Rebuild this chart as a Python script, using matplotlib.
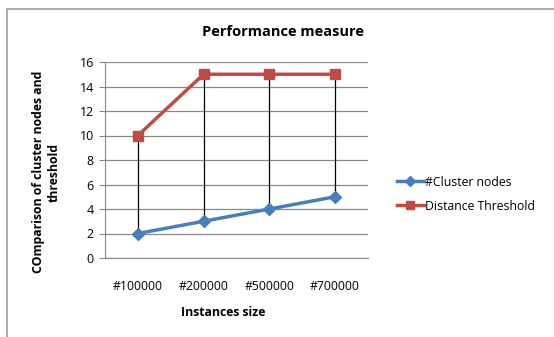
import matplotlib
matplotlib.use("Agg")
import matplotlib.pyplot as plt
from matplotlib.patches import Rectangle

categories = ["#100000", "#200000", "#500000", "#700000"]
cluster_nodes = [2, 3, 4, 5]
distance_threshold = [10, 15, 15, 15]
yticks = [0, 2, 4, 6, 8, 10, 12, 14, 16]

plt.rcParams['font.family'] = ['Open Sans', 'DejaVu Sans']

W, H = 554, 337
fig = plt.figure(figsize=(W / 100, H / 100), dpi=100)
fig.patch.set_facecolor("white")

# outer chart border (extends beyond right/bottom edges)
fig.patches.append(Rectangle((7 / W, -0.1), 1.2, 1 - 9 / H + 0.1, transform=fig.transFigure,
                             fill=False, edgecolor="#a0a0a0", linewidth=1.2))

ax = fig.add_axes([105 / W, 1 - 258 / H, (368 - 105) / W, (258 - 62) / H])
x = list(range(len(categories)))

for i in x:
    ax.plot([i, i], [cluster_nodes[i], distance_threshold[i]], color="black", lw=0.9, zorder=2)

ax.plot(x, cluster_nodes, color="#4a7ebb", lw=2.5, marker="D", markersize=6,
        markerfacecolor="#4a7ebb", markeredgecolor="#4a7ebb", label="#Cluster nodes", zorder=3)
ax.plot(x, distance_threshold, color="#be4b48", lw=2.5, marker="s", markersize=7.5,
        markerfacecolor="#be4b48", markeredgecolor="#be4b48", label="Distance Threshold", zorder=3)

ax.set_xlim(-0.5, 3.5)
ax.set_ylim(0, 16)
ax.set_yticks(yticks)
ax.set_xticks(x)
ax.set_xticklabels(categories)
ax.yaxis.grid(True, color="#888888", lw=0.9)
ax.set_axisbelow(True)
for s in ["top", "right"]:
    ax.spines[s].set_visible(False)
ax.spines["left"].set_color("#888888")
ax.spines["bottom"].set_color("#888888")
ax.tick_params(axis="y", length=4, color="#888888", labelsize=9, pad=4)
ax.tick_params(axis="x", length=0, labelsize=8.8, pad=16)

fig.text(283 / W, 1 - 32 / H, "Performance measure", ha="center", va="center",
         fontsize=10.5, fontweight="bold")
fig.text(223 / W, 1 - 313 / H, "Instances size", ha="center", va="center",
         fontsize=8.8, fontweight="bold")
fig.text(46 / W, 1 - 172 / H, "COmparison of cluster nodes and\nthreshold", ha="center",
         va="center", rotation=90, fontsize=8.8, fontweight="bold", linespacing=1.25)

leg = fig.legend(loc="center left", bbox_to_anchor=(386 / W, 1 - 194 / H), frameon=False,
                 fontsize=8.8, handlelength=2.2, handletextpad=0.1, labelspacing=0.9,
                 markerscale=0.8)

fig.savefig("out.png", dpi=100)
